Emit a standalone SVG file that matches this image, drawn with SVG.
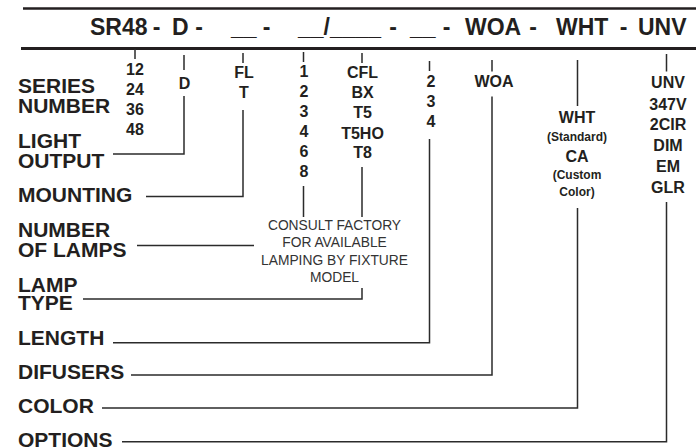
<svg xmlns="http://www.w3.org/2000/svg" width="696" height="448" viewBox="0 0 696 448">
<style>
text{font-family:"Liberation Sans",Arial,sans-serif;fill:#231f20}
.hd{font-size:23px;font-weight:bold}
.lb{font-size:21px;font-weight:bold}
.op{font-size:16px;font-weight:bold;text-anchor:middle}
.sm{font-size:12px;font-weight:bold;text-anchor:middle}
.nt{font-size:13.8px;text-anchor:middle;fill:#333}
.ln{fill:none;stroke:#2b2b2b;stroke-width:1.5}
.rule{stroke:#231f20;fill:none}
</style>
<rect width="696" height="448" fill="#fff"/>
<g id="header">
<line class="rule" x1="23" y1="8.5" x2="696" y2="8.5" stroke-width="2.5"/>
<line class="rule" x1="21" y1="48.5" x2="696" y2="48.5" stroke-width="3"/>
<text class="hd" x="90" y="35">SR48</text>
<text class="hd" x="156.5" y="35" text-anchor="middle">-</text>
<text class="hd" x="172" y="35">D</text>
<text class="hd" x="199" y="35" text-anchor="middle">-</text>
<text class="hd" x="231" y="35">__</text>
<text class="hd" x="266.5" y="35" text-anchor="middle">-</text>
<text class="hd" x="298" y="35">__/____</text>
<text class="hd" x="393" y="35" text-anchor="middle">-</text>
<text class="hd" x="410" y="35">__</text>
<text class="hd" x="446.5" y="35" text-anchor="middle">-</text>
<text class="hd" x="465" y="35">WOA</text>
<text class="hd" x="533" y="35" text-anchor="middle">-</text>
<text class="hd" x="556" y="35">WHT</text>
<text class="hd" x="623.5" y="35" text-anchor="middle">-</text>
<text class="hd" x="638" y="35">UNV</text>
</g>
<g id="labels">
<text class="lb" x="18" y="93">SERIES</text>
<text class="lb" x="18" y="113">NUMBER</text>
<text class="lb" x="18" y="147.5">LIGHT</text>
<text class="lb" x="18" y="167.5">OUTPUT</text>
<text class="lb" x="18" y="201.5">MOUNTING</text>
<text class="lb" x="18" y="236.5">NUMBER</text>
<text class="lb" x="18" y="256.5">OF LAMPS</text>
<text class="lb" x="18" y="291.5">LAMP</text>
<text class="lb" x="18" y="310">TYPE</text>
<text class="lb" x="18" y="345">LENGTH</text>
<text class="lb" x="18" y="379">DIFUSERS</text>
<text class="lb" x="18" y="412.5">COLOR</text>
<text class="lb" x="18" y="446.5">OPTIONS</text>
</g>
<g id="opt-series">
<text class="op" x="135" y="75" font-size="15">12</text>
<text class="op" x="135" y="95" font-size="15">24</text>
<text class="op" x="135" y="115" font-size="15">36</text>
<text class="op" x="135" y="134.5" font-size="15">48</text>
</g>
<g id="opt-output"><text class="op" x="184.5" y="89">D</text></g>
<g id="opt-mounting">
<text class="op" x="244" y="77.5">FL</text>
<text class="op" x="244" y="97.5">T</text>
</g>
<g id="opt-lamps">
<text class="op" x="304" y="76.5">1</text>
<text class="op" x="304" y="96.5">2</text>
<text class="op" x="304" y="116.5">3</text>
<text class="op" x="304" y="136.5">4</text>
<text class="op" x="304" y="156.5">6</text>
<text class="op" x="304" y="176.5">8</text>
</g>
<g id="opt-type">
<text class="op" x="362.5" y="78">CFL</text>
<text class="op" x="362.5" y="98">BX</text>
<text class="op" x="362.5" y="118">T5</text>
<text class="op" x="362.5" y="138.5">T5HO</text>
<text class="op" x="362.5" y="158">T8</text>
</g>
<g id="note">
<text class="nt" x="334.5" y="230">CONSULT FACTORY</text>
<text class="nt" x="334.5" y="247">FOR AVAILABLE</text>
<text class="nt" x="334.5" y="265">LAMPING BY FIXTURE</text>
<text class="nt" x="334.5" y="281.7">MODEL</text>
</g>
<g id="opt-length">
<text class="op" x="431" y="87">2</text>
<text class="op" x="431" y="107">3</text>
<text class="op" x="431" y="126.5">4</text>
</g>
<g id="opt-difusers"><text class="op" x="494" y="87">WOA</text></g>
<g id="opt-color">
<text class="op" x="577" y="122.5">WHT</text>
<text class="sm" x="577" y="140.5">(Standard)</text>
<text class="op" x="577" y="161.5">CA</text>
<text class="sm" x="577" y="179">(Custom</text>
<text class="sm" x="577" y="195.5">Color)</text>
</g>
<g id="opt-options">
<text class="op" x="668" y="88">UNV</text>
<text class="op" x="668" y="109.5">347V</text>
<text class="op" x="668" y="130">2CIR</text>
<text class="op" x="668" y="151">DIM</text>
<text class="op" x="668" y="172">EM</text>
<text class="op" x="668" y="193">GLR</text>
</g>
<g id="connectors" class="ln">
<path d="M135 49V59"/>
<path d="M184 55V70M184 96V154H113"/>
<path d="M243 53V63M243 110V196.5H146"/>
<path d="M303.5 52V62M303.5 186V217"/>
<path d="M362 53V63M362 167V217"/>
<path d="M137 245.5H254"/>
<path d="M362 288V299H83"/>
<path d="M429.5 61V71M429.5 139V342.7H113"/>
<path d="M492 60V71.5M492 96.5V375H131"/>
<path d="M577.5 60V106M577.5 208V408H102"/>
<path d="M666.5 54V71.5M666.5 202V441.7H122"/>
</g>
</svg>
